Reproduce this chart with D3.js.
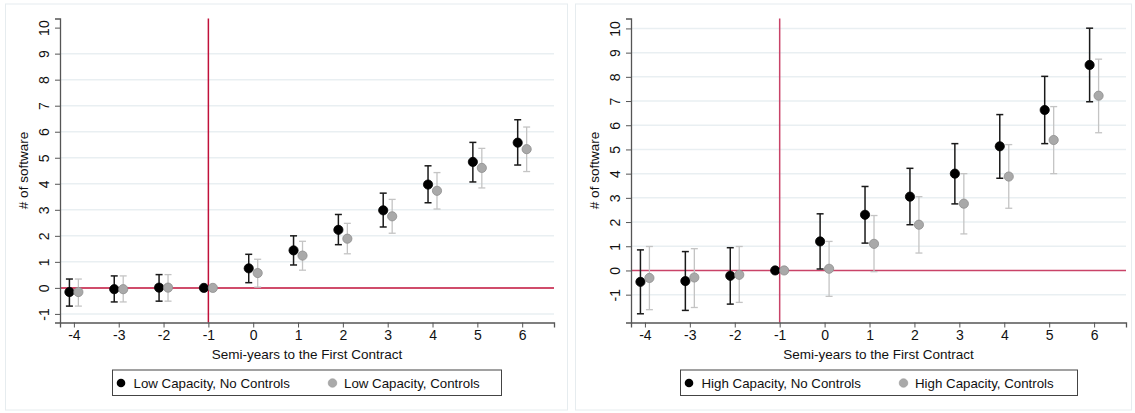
<!DOCTYPE html>
<html><head><meta charset="utf-8">
<script src="https://cdn.jsdelivr.net/npm/d3@7"></script>
<style>
body{margin:0;background:#fff;}
svg{display:block;font-family:"Liberation Sans",Arial,sans-serif;}
</style></head>
<body><svg id="c" width="1135" height="413"></svg>
<script>
const periods = [-4,-3,-2,-1,0,1,2,3,4,5,6];
const xTicks = [-4,-3,-2,-1,0,1,2,3,4,5,6];
const yTicks = [-1,0,1,2,3,4,5,6,7,8,9,10];

// Low capacity
const lowNoCtrl    = [-0.16,-0.05,0.01,0,0.75,1.44,2.23,2.98,3.97,4.84,5.58];
const lowNoCtrlHi  = [0.34,0.46,0.51,0,1.29,2.00,2.82,3.64,4.69,5.59,6.46];
const lowNoCtrlLo  = [-0.70,-0.54,-0.51,0,0.20,0.88,1.66,2.34,3.27,4.07,4.72];
const lowCtrl      = [-0.16,-0.05,0.01,0,0.57,1.24,1.89,2.75,3.73,4.61,5.33];
const lowCtrlHi    = [0.34,0.46,0.51,0,1.10,1.79,2.48,3.40,4.43,5.36,6.18];
const lowCtrlLo    = [-0.70,-0.54,-0.51,0,0.03,0.68,1.31,2.10,3.03,3.84,4.47];

// High capacity
const highNoCtrl   = [-0.47,-0.44,-0.22,0,1.20,2.30,3.05,4.00,5.13,6.63,8.49];
const highNoCtrlHi = [0.85,0.78,0.94,0,2.34,3.47,4.22,5.24,6.44,8.02,10.01];
const highNoCtrlLo = [-1.79,-1.65,-1.39,0,0.06,1.13,1.89,2.75,3.81,5.24,6.97];
const highCtrl     = [-0.31,-0.29,-0.18,0,0.07,1.10,1.89,2.76,3.88,5.39,7.22];
const highCtrlHi   = [0.99,0.90,0.99,0,1.20,2.27,3.05,4.00,5.20,6.77,8.73];
const highCtrlLo   = [-1.62,-1.53,-1.32,0,-1.07,-0.05,0.72,1.51,2.57,4.00,5.69];

const xLabel = "Semi-years to the First Contract";
const yLabel = "# of software";

const svg = d3.select("#c");
const fmt = d => String(d); // plain hyphen minus as in reference

function panel(cfg){
  const g = svg.append("g");
  g.append("rect").attr("x",cfg.bx).attr("y",4).attr("width",cfg.bw).attr("height",406)
    .attr("fill","#fff").attr("stroke","#e6ecef").attr("stroke-width",1);
  const x = d3.scaleLinear().domain([-4.31,6.71]).range([cfg.left,cfg.right]);
  const y = d3.scaleLinear().domain(cfg.ydom).range([322.5,18.5]);
  g.append("g").selectAll("line").data(yTicks.filter(t=>t!==0 && (cfg.grid10 || t!==10))).join("line")
    .attr("x1",cfg.left).attr("x2",cfg.right).attr("y1",d=>y(d)).attr("y2",d=>y(d))
    .attr("stroke","#e9eff2").attr("stroke-width",1.5);
  g.append("line").attr("x1",cfg.left).attr("x2",cfg.right).attr("y1",y(0)).attr("y2",y(0))
    .attr("stroke",cfg.red).attr("stroke-width",1.5);
  g.append("line").attr("x1",x(-1)).attr("x2",x(-1)).attr("y1",y.range()[1]).attr("y2",y.range()[0])
    .attr("stroke",cfg.red).attr("stroke-width",1.5);
  const ax = g.append("g").attr("transform",`translate(0,${y.range()[0]})`)
    .call(d3.axisBottom(x).tickValues(xTicks).tickSize(5).tickPadding(3).tickFormat(fmt));
  ax.select(".domain").attr("stroke","#555").attr("stroke-width",1.3);
  ax.selectAll(".tick line").attr("stroke","#555");
  ax.selectAll("text").attr("font-size",14).attr("fill","#111").attr("font-family","Liberation Sans, Arial, sans-serif");
  const ay = g.append("g").attr("transform",`translate(${cfg.left},0)`)
    .call(d3.axisLeft(y).tickValues(yTicks).tickSize(5).tickPadding(3).tickFormat(fmt));
  ay.select(".domain").attr("stroke","#555").attr("stroke-width",1.3);
  ay.selectAll(".tick line").attr("stroke","#555");
  ay.selectAll(".tick text").attr("font-size",14).attr("fill","#111")
    .attr("font-family","Liberation Sans, Arial, sans-serif")
    .attr("text-anchor","middle").attr("dy",0).attr("x",0)
    .attr("transform","translate(-16,0) rotate(-90)").attr("dominant-baseline","central");
  g.append("text").attr("x",(cfg.left+cfg.right)/2).attr("y",359).attr("text-anchor","middle")
    .attr("font-size",13.5).attr("fill","#111").text(xLabel);
  g.append("text").attr("transform",`translate(${cfg.left-32},${(y.range()[0]+y.range()[1])/2}) rotate(-90)`)
    .attr("text-anchor","middle").attr("font-size",13.5).attr("fill","#111").text(yLabel);
  const series = [
    {v:cfg.nc, hi:cfg.ncHi, lo:cfg.ncLo, off:-0.1, line:"#1a1a1a", fill:"#000", stroke:"#000", lw:1.5},
    {v:cfg.c, hi:cfg.cHi, lo:cfg.cLo, off:0.1, line:"#c4c4c4", fill:"#a9a9a9", stroke:"#8e8e8e", lw:1.3}
  ];
  series.forEach(s=>{
    const data = periods.map((p,i)=>({p, v:s.v[i], hi:s.hi[i], lo:s.lo[i]}));
    const sg = g.append("g");
    const ci = data.filter(d=>d.p!==-1);
    sg.selectAll(".v").data(ci).join("line").attr("x1",d=>x(d.p+s.off)).attr("x2",d=>x(d.p+s.off))
      .attr("y1",d=>y(d.hi)).attr("y2",d=>y(d.lo)).attr("stroke",s.line).attr("stroke-width",s.lw);
    ["hi","lo"].forEach(k=>{
      sg.selectAll(".c"+k).data(ci).join("line").attr("x1",d=>x(d.p+s.off)-3.5).attr("x2",d=>x(d.p+s.off)+3.5)
        .attr("y1",d=>y(d[k])).attr("y2",d=>y(d[k])).attr("stroke",s.line).attr("stroke-width",s.lw);
    });
    sg.selectAll("circle").data(data).join("circle").attr("cx",d=>x(d.p+s.off)).attr("cy",d=>y(d.v))
      .attr("r",4.6).attr("fill",s.fill).attr("stroke",s.stroke).attr("stroke-width",0.8);
  });
  const lg = g.append("g");
  lg.append("rect").attr("x",cfg.lx).attr("y",370).attr("width",cfg.lw).attr("height",25.5)
    .attr("fill","#fff").attr("stroke","#444").attr("stroke-width",1);
  lg.append("circle").attr("cx",cfg.lx+8.5).attr("cy",383).attr("r",4.3).attr("fill","#000");
  lg.append("text").attr("x",cfg.lx+21).attr("y",387.5).attr("font-size",13.3).attr("fill","#111").text(cfg.l1);
  lg.append("circle").attr("cx",cfg.lx+cfg.g2).attr("cy",383).attr("r",4.3).attr("fill","#a9a9a9").attr("stroke","#999").attr("stroke-width",0.6);
  lg.append("text").attr("x",cfg.lx+cfg.g2+11.5).attr("y",387.5).attr("font-size",13.3).attr("fill","#111").text(cfg.l2);
}

panel({bx:5.5,bw:562,left:60,right:554,ydom:[-1.33,10.35],red:"#c0103a",grid10:false,
  nc:lowNoCtrl,ncHi:lowNoCtrlHi,ncLo:lowNoCtrlLo,c:lowCtrl,cHi:lowCtrlHi,cLo:lowCtrlLo,
  lx:112.5,lw:389,g2:220,l1:"Low Capacity, No Controls",l2:"Low Capacity, Controls"});
panel({bx:575.5,bw:556,left:631,right:1126,ydom:[-2.15,10.41],red:"#c94368",grid10:true,
  nc:highNoCtrl,ncHi:highNoCtrlHi,ncLo:highNoCtrlLo,c:highCtrl,cHi:highCtrlHi,cLo:highCtrlLo,
  lx:680.5,lw:397,g2:223,l1:"High Capacity, No Controls",l2:"High Capacity, Controls"});
</script></body></html>
